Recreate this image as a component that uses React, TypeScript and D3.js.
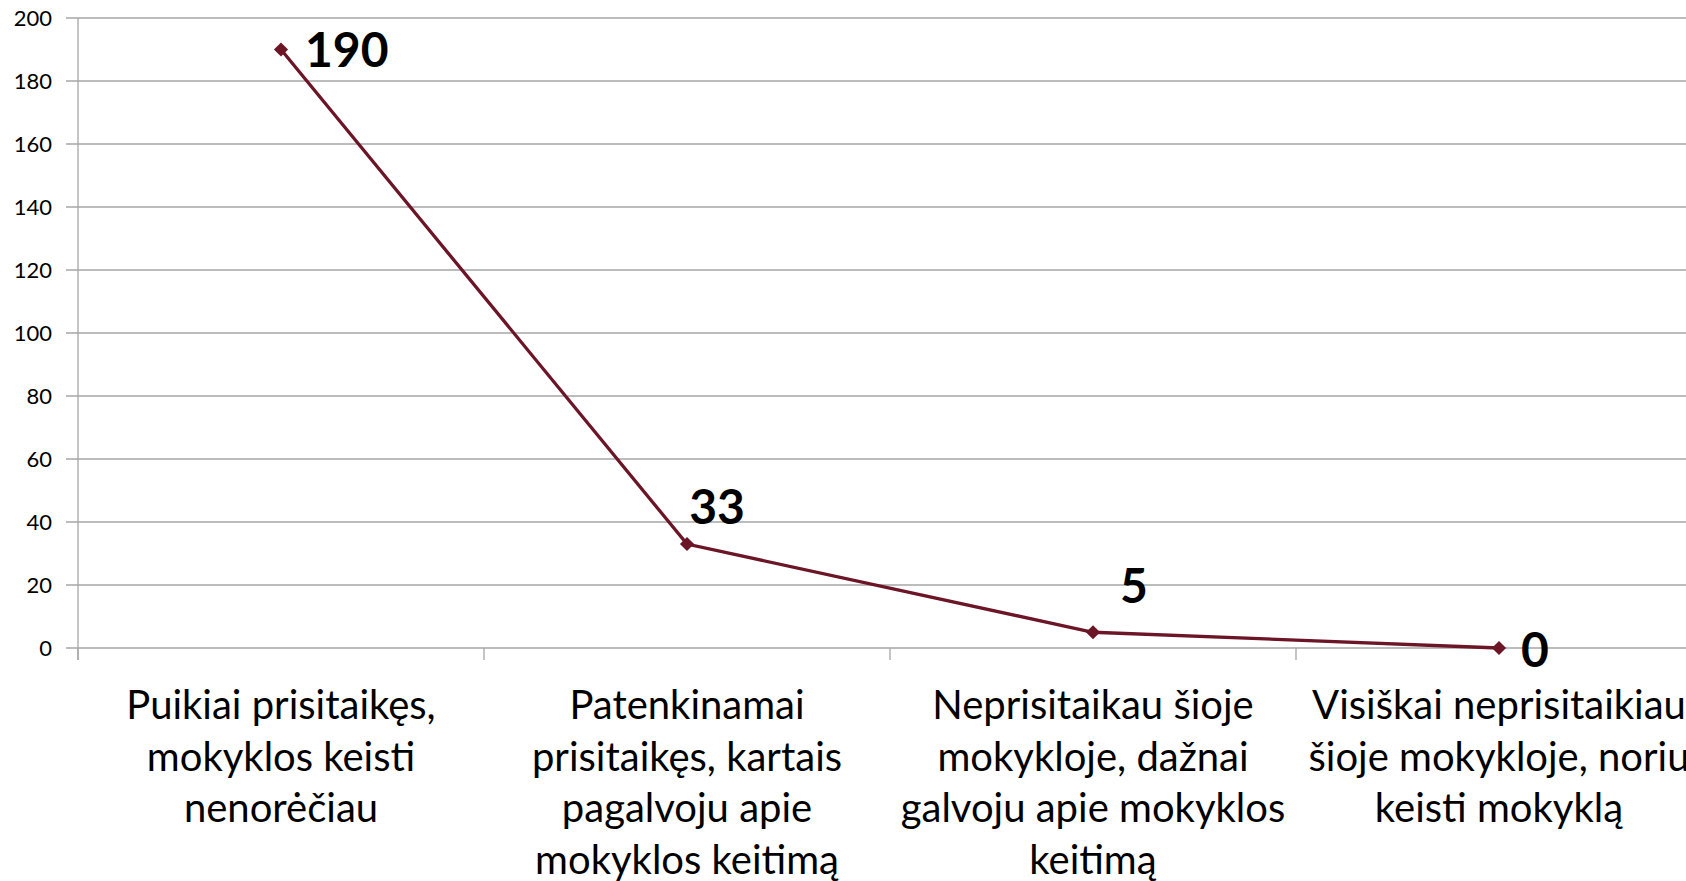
import React from 'react';
import * as d3 from 'd3';

const categories = [
  ['Puikiai prisitaikęs,', 'mokyklos keisti', 'nenorėčiau'],
  ['Patenkinamai', 'prisitaikęs, kartais', 'pagalvoju apie', 'mokyklos keitimą'],
  ['Neprisitaikau šioje', 'mokykloje, dažnai', 'galvoju apie mokyklos', 'keitimą'],
  ['Visiškai neprisitaikiau', 'šioje mokykloje, noriu', 'keisti mokyklą'],
];
const values = [190, 33, 5, 0];
const yTicks = [0, 20, 40, 60, 80, 100, 120, 140, 160, 180, 200];

// data labels were dragged around by hand in the original, keep their nudges here
const labelNudge = [
  { dx: 24, dy: 0, anchor: 'start' },
  { dx: 30, dy: -37, anchor: 'middle' },
  { dx: 41, dy: -47, anchor: 'middle' },
  { dx: 36, dy: 2, anchor: 'middle' },
];

const W = 1686;
const H = 881;
const FONT = 'Lato, "Open Sans", sans-serif';
const lineColor = '#6b1526';
const gridColor = '#a6a6a6';

export default function App() {
  const left = 78;
  const band = 406;
  const keys = categories.map((_, i) => String(i));

  const x = d3.scaleBand().domain(keys).range([left, left + band * keys.length]).padding(0);
  const y = d3.scaleLinear().domain([0, 200]).range([648, 18]);

  const cx = (i: number) => (x(String(i)) as number) + x.bandwidth() / 2;
  const line = d3
    .line<number>()
    .x((_, i) => cx(i))
    .y((d) => y(d));

  const y0 = y(0);
  const ticks = keys.map((k) => x(k) as number).concat([left + band * keys.length]);

  return (
    <div style={{ position: 'absolute', left: 0, top: 0 }}>
      <svg width={W} height={H} style={{ display: 'block', background: '#fff' }} fontFamily={FONT}>
        {/* gridlines + y ticks */}
        {yTicks.map((t) => (
          <g key={t}>
            <line x1={66} x2={W} y1={y(t)} y2={y(t)} stroke={gridColor} strokeWidth={1.3} />
            <text x={52} y={y(t)} dy="0.35em" textAnchor="end" fontSize={22} fill="#000">
              {t}
            </text>
          </g>
        ))}

        {/* y axis */}
        <line x1={left} x2={left} y1={y(200)} y2={y0 + 12} stroke={gridColor} strokeWidth={1.3} />

        {/* category ticks */}
        {ticks.map((t, i) => (
          <line key={i} x1={t} x2={t} y1={y0} y2={y0 + 12} stroke={gridColor} strokeWidth={1.3} />
        ))}

        {/* category labels */}
        {categories.map((lines, i) => (
          <text key={i} x={cx(i)} y={719} textAnchor="middle" fontSize={40} fill="#000">
            {lines.map((l, j) => (
              <tspan key={j} x={cx(i)} dy={j === 0 ? 0 : 51.6}>
                {l}
              </tspan>
            ))}
          </text>
        ))}

        {/* series */}
        <path d={line(values) || ''} fill="none" stroke={lineColor} strokeWidth={3.3} />
        {values.map((v, i) => (
          <rect
            key={i}
            x={cx(i) - 5}
            y={y(v) - 5}
            width={10}
            height={10}
            fill={lineColor}
            transform={`rotate(45 ${cx(i)} ${y(v)})`}
          />
        ))}

        {/* data labels */}
        {values.map((v, i) => (
          <text
            key={i}
            x={cx(i) + labelNudge[i].dx}
            y={y(v) + labelNudge[i].dy}
            dy="0.36em"
            textAnchor={labelNudge[i].anchor}
            fontSize={48}
            fontWeight="bold"
            fill="#000"
          >
            {v}
          </text>
        ))}
      </svg>
    </div>
  );
}
